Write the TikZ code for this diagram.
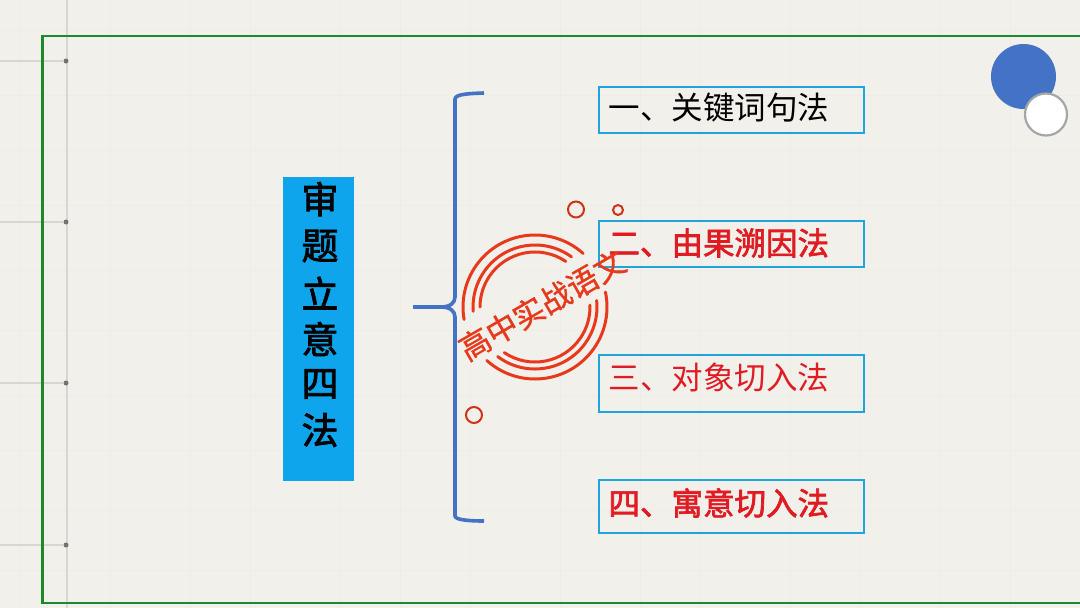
\documentclass[tikz,border=0pt]{standalone}
\usetikzlibrary{calc}
\usepackage{fontspec}
\setmainfont{Noto Sans CJK SC}
\newfontfamily\heavyfont[FakeBold=2.2]{Noto Sans CJK SC}
\newfontfamily\semifont[FakeBold=1]{Noto Sans CJK SC}
\definecolor{paper}{HTML}{F2F0EB}
\definecolor{weave}{HTML}{EEECE7}
\definecolor{ruleline}{HTML}{D8D6D1}
\definecolor{framegreen}{HTML}{1B8A2C}
\definecolor{boxblue}{HTML}{1FA5D8}
\definecolor{titleblue}{HTML}{0EA5EC}
\definecolor{bracecol}{HTML}{4472C4}
\definecolor{stampred}{HTML}{E8391C}
\definecolor{labelred}{HTML}{E01B22}
\tikzset{
  x=1pt,y=-1pt,
  labelbox/.style={draw=boxblue,line width=2.6pt,inner sep=0pt},
  labeltext/.style={anchor=west},
  plainlabel/.style={labeltext,font=\fontsize{31.5}{32}\selectfont},
  boldlabel/.style={labeltext,font=\heavyfont\fontsize{31.5}{32}\selectfont},
  ring/.style={draw=stampred,line width=3pt,line cap=round},
  smallring/.style={draw=stampred!90!black,line width=2pt,fill=none,circle,inner sep=0pt},
  pin/.style={fill=black!55,circle,minimum size=5pt,inner sep=0pt},
  rule/.style={draw=ruleline,line width=2pt},
  weaveline/.style={draw=weave,line width=1pt},
  bracepath/.style={draw=bracecol,line width=3.6pt,line join=round}
}
\begin{document}
\begin{tikzpicture}
\useasboundingbox (0,0) rectangle (1080,608);
\fill[paper] (0,0) rectangle (1080,608);
% faint paper weave
\foreach \x in {20,110,190,250,340,400,470,560,640,700,790,860,940,1010}
  \draw[weaveline] (\x,0) -- (\x,608);
\foreach \y in {30,95,150,205,270,330,395,450,510,570}
  \draw[weaveline] (0,\y) -- (1080,\y);
% binding rules
\draw[rule] (67,0) -- (67,608);
\foreach \y/\n in {61/a,222/b,383/c,545/d}{
  \node[pin] (pin\n) at (66,\y) {};
  \draw[rule] (0,\y) -- (pin\n);
}
% frame
\draw[framegreen,line width=2.6pt] (1082,36) -- (42.5,36) -- (42.5,603) -- (1082,603);
% corner discs
\node[circle,fill=bracecol,minimum size=65pt,inner sep=0pt] (disc) at (1023.5,76.5) {};
\node[circle,fill=white,draw=black!35,line width=2.2pt,minimum size=42pt,inner sep=0pt] (discw) at (1046,114.5) {};
% title
\node[fill=titleblue,minimum width=71pt,minimum height=304pt,inner sep=0pt] (title) at (318.5,329) {};
\foreach \c/\y in {审/199,题/246,立/293,意/339,四/384,法/430}
  \node[font=\heavyfont\fontsize{37}{37}\selectfont] (t\c) at (320,\y) {\c};
% brace
\draw[bracepath]
  (484,93) .. controls (470,93.5) and (455,94) .. (455,99)
  -- (455,297) .. controls (455,303) and (450,307) .. (441,307) -- (413,307);
\draw[bracepath]
  (441,307) .. controls (450,307) and (455,311) .. (455,317)
  -- (455,516) .. controls (455,520) and (470,521) .. (484,521);
% label boxes
\node[labelbox,minimum width=265pt,minimum height=46pt] (b1) at (731.5,110) {};
\node[labelbox,minimum width=265pt,minimum height=46pt] (b2) at (731.5,244) {};
\node[labelbox,minimum width=265pt,minimum height=57pt] (b3) at (731.5,383.5) {};
\node[labelbox,minimum width=265pt,minimum height=53pt] (b4) at (731.5,506.5) {};
\node[plainlabel,text=black] (l1) at (605,108) {一、关键词句法};
\node[boldlabel,text=labelred] (l2) at (605,243) {二、由果溯因法};
\node[plainlabel,text=labelred] (l3) at (605,377) {三、对象切入法};
\node[boldlabel,text=labelred] (l4) at (605,503) {四、寓意切入法};
% stamp
\coordinate (sc) at (535,307);
\foreach \r/\sa/\ea/\sb/\eb in {72/48/190/228/372,62/54/184/233/366,55/56/180/236/362}{
  \draw[ring] ($(sc)+(\sa:\r pt)$) arc[start angle=\sa,end angle=\ea,radius=\r pt];
  \draw[ring] ($(sc)+(\sb:\r pt)$) arc[start angle=\sb,end angle=\eb,radius=\r pt];
}
\node[font=\semifont\fontsize{31}{31}\selectfont,text=stampred,rotate=30] (stamp) at (542,305) {高中实战语文};
\node[smallring,minimum size=16pt] (s1) at (576,209.5) {};
\node[smallring,minimum size=10pt] (s2) at (618,210) {};
\node[smallring,minimum size=16pt] (s3) at (474,415) {};
\end{tikzpicture}
\end{document}
